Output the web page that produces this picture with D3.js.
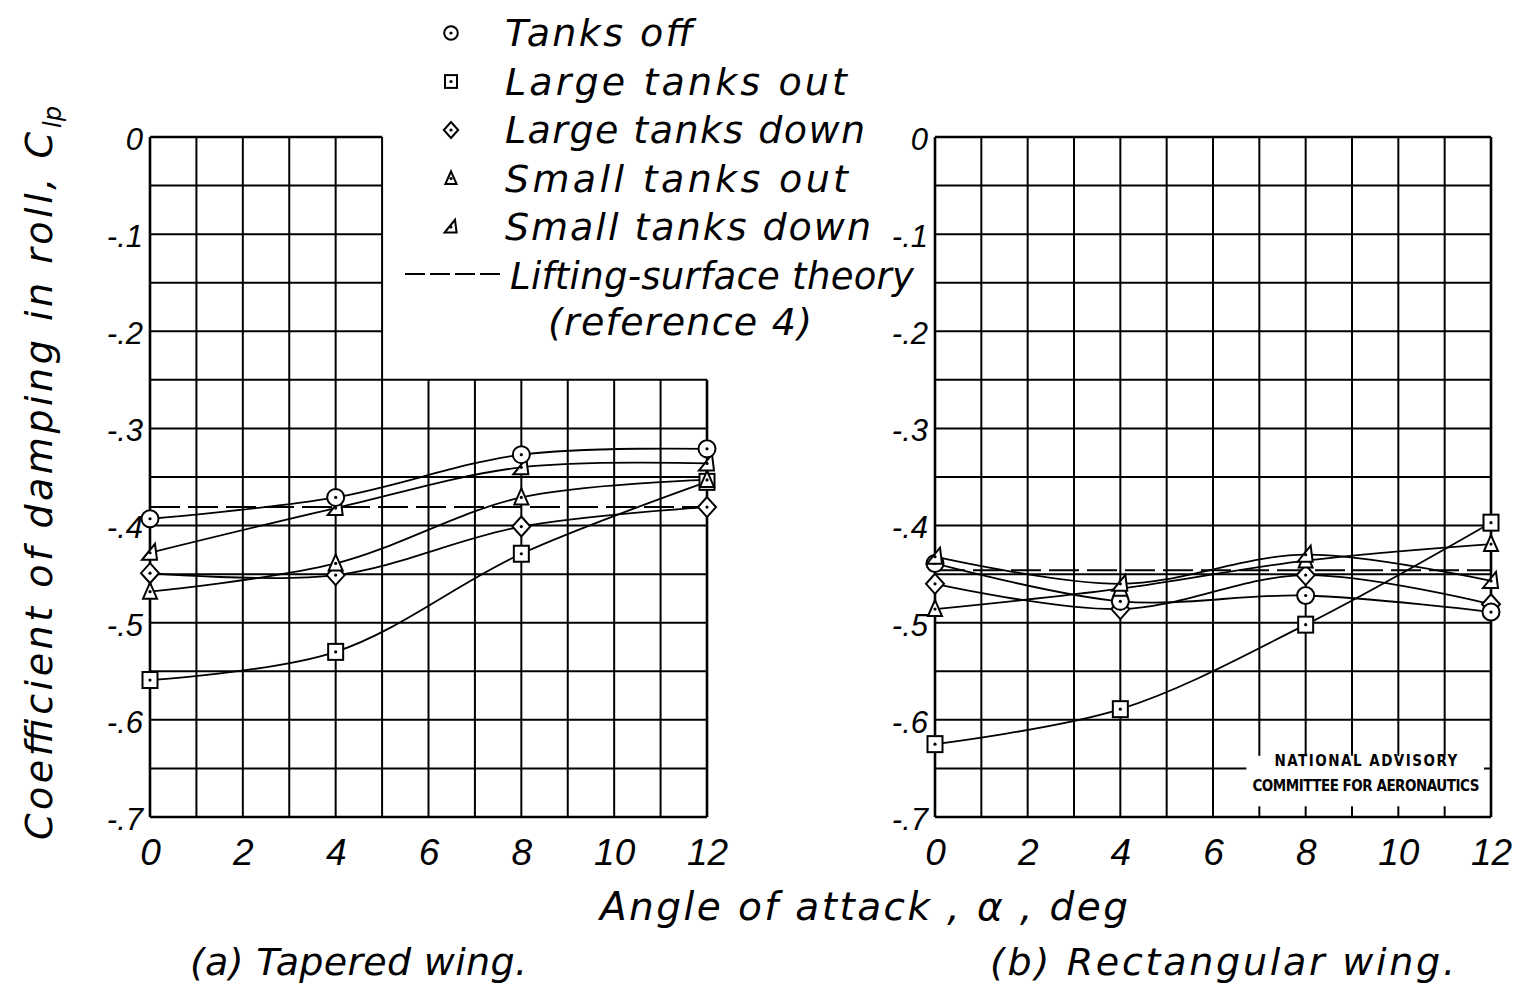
<!DOCTYPE html>
<html>
<head>
<meta charset="utf-8">
<script src="https://cdn.jsdelivr.net/npm/d3@7"></script>
<style>
  html, body { margin: 0; padding: 0; background: #fff; }
  svg text { font-family: "DejaVu Sans", sans-serif; font-style: italic; fill: #000; }
</style>
</head>
<body>
<svg id="chart" width="1517" height="986"></svg>
<script>
// angle of attack at which the runs were made
var alpha = [0, 4, 8, 12];

// (a) tapered wing, damping in roll
var taperedTanksOff        = [-0.393, -0.371, -0.327, -0.321];
var taperedLargeOut        = [-0.559, -0.530, -0.429, -0.355];
var taperedLargeDown       = [-0.449, -0.451, -0.401, -0.381];
var taperedSmallOut        = [-0.468, -0.439, -0.371, -0.353];
var taperedSmallDown       = [-0.428, -0.382, -0.340, -0.336];
var taperedTheory          = [-0.381, -0.381];

// (b) rectangular wing, damping in roll
var rectTanksOff           = [-0.439, -0.478, -0.472, -0.489];
var rectLargeOut           = [-0.625, -0.589, -0.502, -0.397];
var rectLargeDown          = [-0.460, -0.486, -0.451, -0.481];
var rectSmallOut           = [-0.486, -0.465, -0.436, -0.419];
var rectSmallDown          = [-0.432, -0.460, -0.430, -0.457];
var rectTheory             = [-0.446, -0.446];

var theoryAlpha = [0, 12];

// ticks
var xTicks = [0, 2, 4, 6, 8, 10, 12];
var yTicks = [0, -0.1, -0.2, -0.3, -0.4, -0.5, -0.6, -0.7];
var yTickLabels = ["0", "-.1", "-.2", "-.3", "-.4", "-.5", "-.6", "-.7"];

// legend entries
var legendLabels = ["Tanks off", "Large tanks out", "Large tanks down", "Small tanks out", "Small tanks down"];
var legendMarkers = ["circle", "square", "diamond", "triangle", "slant"];
var legendWidths = [188, 342, 360, 343, 366];

var svg = d3.select("#chart");
svg.append("rect").attr("width", 1517).attr("height", 986).attr("fill", "#fff");

// stretch (or squeeze) the lettering the way the draughtsman spaced it
function fit(sel, len) {
    return sel.attr("textLength", len).attr("lengthAdjust", "spacing");
}

/**
 * Draws one of the hand-drawn style symbols, centred at (cx, cy).
 */
function marker(g, type, cx, cy, k) {
    k = k || 1;
    var m = g.append("g").attr("transform", "translate(" + cx + "," + cy + ") scale(" + k + ")");
    var style = function (s) {
        return s.attr("fill", "#fff").attr("stroke", "#000").attr("stroke-width", 2 / k);
    };
    if (type === "circle") {
        m.append("circle").attr("r", 8.5).call(style);
    } else if (type === "square") {
        m.append("rect").attr("x", -7.5).attr("y", -8).attr("width", 15).attr("height", 16).call(style);
    } else if (type === "diamond") {
        m.append("path").attr("d", "M0,-10L9,0L0,10L-9,0Z").call(style);
    } else if (type === "triangle") {
        m.append("path").attr("d", "M0,-9L7,7L-7,7Z").call(style);
    } else if (type === "slant") {
        m.append("path").attr("d", "M5,-9L7,7L-8,7Z").call(style);
    }
    m.append("circle").attr("r", 1.6 / k).attr("fill", "#000");
}

/**
 * One panel of the figure.
 */
function panel(opts) {
    var x = d3.scaleLinear().domain([0, 12]).range(opts.xRange);
    var y = d3.scaleLinear().domain([0, -0.7]).range([137, 817]);
    var g = svg.append("g");

    // grid, every degree and every .05
    var grid = g.append("g").attr("stroke", "#000").attr("fill", "none");
    d3.range(0, 13).forEach(function (a) {
        var top = (opts.cutX !== undefined && a > opts.cutX) ? y(opts.cutY) : y(0);
        grid.append("line")
            .attr("x1", x(a)).attr("x2", x(a))
            .attr("y1", top).attr("y2", y(-0.7))
            .attr("stroke-width", (a === 0 || a === 12) ? 2.6 : 2);
    });
    d3.range(0, 15).forEach(function (i) {
        var v = -i * 0.05;
        var right = (opts.cutX !== undefined && v > opts.cutY + 1e-9) ? x(opts.cutX) : x(12);
        grid.append("line")
            .attr("x1", x(0)).attr("x2", right)
            .attr("y1", y(v)).attr("y2", y(v))
            .attr("stroke-width", (i === 0 || i === 14) ? 2.6 : 2);
    });

    // y tick labels
    var yAxis = d3.axisLeft(y).tickValues(yTicks)
        .tickFormat(function (d, i) { return yTickLabels[i]; })
        .tickSize(0).tickPadding(7);
    g.append("g").attr("transform", "translate(" + x(0) + ",0)").call(yAxis)
        .call(function (s) { s.select(".domain").remove(); })
        .selectAll("text")
        .attr("dy", "0.4em")
        .style("font-size", "31px")
        .style("font-family", "'Liberation Sans', Arial, sans-serif")
        .style("font-style", "italic");

    // x tick labels
    var xAxis = d3.axisBottom(x).tickValues(xTicks).tickSize(0).tickPadding(22);
    g.append("g").attr("transform", "translate(0," + y(-0.7) + ")").call(xAxis)
        .call(function (s) { s.select(".domain").remove(); })
        .selectAll("text")
        .style("font-size", "37px")
        .style("font-family", "'Liberation Sans', Arial, sans-serif")
        .style("font-style", "italic");

    // theory line
    g.append("line")
        .attr("x1", x(theoryAlpha[0])).attr("x2", x(theoryAlpha[1]))
        .attr("y1", y(opts.theory[0])).attr("y2", y(opts.theory[1]))
        .attr("stroke", "#000").attr("stroke-width", 2)
        .attr("stroke-dasharray", "30,8");

    // faired curves then the test points
    var line = d3.line()
        .x(function (d, i) { return x(alpha[i]); })
        .y(function (d) { return y(d); })
        .curve(d3.curveCatmullRom.alpha(0.5));

    opts.series.forEach(function (s) {
        g.append("path").attr("d", line(s.values))
            .attr("fill", "none").attr("stroke", "#000").attr("stroke-width", 1.8);
    });
    opts.series.forEach(function (s) {
        s.values.forEach(function (v, i) {
            marker(g, s.marker, x(alpha[i]), y(v));
        });
    });

    return { x: x, y: y, g: g };
}

var left = panel({
    xRange: [150, 707],
    cutX: 5,
    cutY: -0.25,
    theory: taperedTheory,
    series: [
        { marker: "square", values: taperedLargeOut },
        { marker: "diamond", values: taperedLargeDown },
        { marker: "triangle", values: taperedSmallOut },
        { marker: "slant", values: taperedSmallDown },
        { marker: "circle", values: taperedTanksOff }
    ]
});

var right = panel({
    xRange: [935, 1491],
    theory: rectTheory,
    series: [
        { marker: "square", values: rectLargeOut },
        { marker: "diamond", values: rectLargeDown },
        { marker: "circle", values: rectTanksOff },
        { marker: "triangle", values: rectSmallOut },
        { marker: "slant", values: rectSmallDown }
    ]
});

// NACA stamp in the lower right of panel (b)
var rx = right.x, ry = right.y;
right.g.append("rect")
    .attr("x", rx(6.72)).attr("y", ry(-0.637))
    .attr("width", rx(11.85) - rx(6.72)).attr("height", ry(-0.689) - ry(-0.637))
    .attr("fill", "#fff");
var stampStyle = function (s) {
    return s.attr("text-anchor", "middle")
        .style("font-family", "'DejaVu Sans Condensed', 'Liberation Sans Narrow', sans-serif")
        .style("font-style", "normal")
        .style("font-weight", "bold")
        .style("font-size", "15px");
};
right.g.append("text").call(stampStyle)
    .attr("x", rx(9.3)).attr("y", ry(-0.648))
    .call(fit, 183)
    .text("NATIONAL ADVISORY");
right.g.append("text").call(stampStyle)
    .attr("x", rx(9.3)).attr("y", ry(-0.673))
    .call(fit, 227)
    .text("COMMITTEE FOR AERONAUTICS");

// legend
var legend = svg.append("g");
legendLabels.forEach(function (label, i) {
    var cy = 33 + i * 48.5;
    marker(legend, legendMarkers[i], 451, cy, 0.8);
    legend.append("text")
        .attr("x", 505).attr("y", cy + 13)
        .style("font-size", "38px")
        .call(fit, legendWidths[i])
        .text(label);
});
legend.append("line")
    .attr("x1", 405).attr("x2", 500).attr("y1", 274).attr("y2", 274)
    .attr("stroke", "#000").attr("stroke-width", 2)
    .attr("stroke-dasharray", "20,5");
legend.append("text").attr("x", 510).attr("y", 289)
    .style("font-size", "37px")
    .call(fit, 404)
    .text("Lifting-surface theory");
legend.append("text").attr("x", 548).attr("y", 335)
    .style("font-size", "38px")
    .call(fit, 264)
    .text("(reference 4)");

// axis titles
svg.append("text")
    .attr("x", 600).attr("y", 920)
    .style("font-size", "39px")
    .call(fit, 528)
    .text("Angle of attack , α , deg");

var ylab = svg.append("g").attr("transform", "translate(52,840) rotate(-90)");
ylab.append("text").attr("x", 0).attr("y", 0)
    .style("font-size", "38px")
    .call(fit, 708)
    .text("Coefficient of damping in roll, C");
ylab.append("text").attr("x", 712).attr("y", 9)
    .style("font-size", "24px")
    .text("lp");

// panel captions
svg.append("text").attr("x", 190).attr("y", 975)
    .style("font-size", "38px")
    .call(fit, 337)
    .text("(a) Tapered wing.");
svg.append("text").attr("x", 990).attr("y", 975)
    .style("font-size", "38px")
    .call(fit, 465)
    .text("(b) Rectangular  wing.");
</script>
</body>
</html>
